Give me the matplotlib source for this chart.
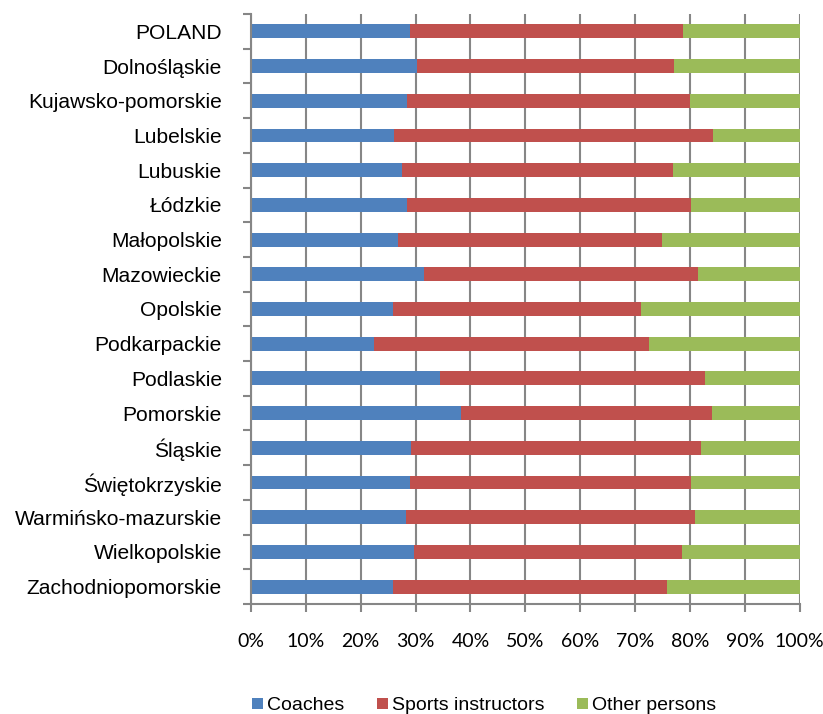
import matplotlib
matplotlib.use("Agg")
import matplotlib.pyplot as plt
import numpy as np
from matplotlib.patches import Patch

regions = ["POLAND", "Dolnośląskie", "Kujawsko-pomorskie", "Lubelskie", "Lubuskie",
           "Łódzkie", "Małopolskie", "Mazowieckie", "Opolskie", "Podkarpackie",
           "Podlaskie", "Pomorskie", "Śląskie", "Świętokrzyskie",
           "Warmińsko-mazurskie", "Wielkopolskie", "Zachodniopomorskie"]
coaches = [28.9, 30.3, 28.4, 26.1, 27.6, 28.4, 26.7, 31.6, 25.9, 22.4,
           34.5, 38.3, 29.2, 28.9, 28.3, 29.7, 25.9]
cum_instructors = [78.8, 77.1, 80.0, 84.2, 76.9, 80.2, 74.9, 81.5, 71.1, 72.6,
                   82.7, 84.0, 82.0, 80.1, 80.9, 78.6, 75.9]
instructors = [c2 - c1 for c1, c2 in zip(coaches, cum_instructors)]
others = [100 - c2 for c2 in cum_instructors]
series_names = ["Coaches", "Sports instructors", "Other persons"]
colors = ["#4F81BD", "#C0504D", "#9BBB59"]
xtick_labels = [f"{v}%" for v in range(0, 101, 10)]

fig = plt.figure(figsize=(8.23, 7.14), dpi=100)
ax = fig.add_axes([251/823, 1-604/714, (799.7-251)/823, (604-14)/714])

y = np.arange(len(regions))
h = 0.40
ax.barh(y, coaches, height=h, color=colors[0], edgecolor="none", zorder=2)
ax.barh(y, instructors, left=coaches, height=h, color=colors[1], edgecolor="none", zorder=2)
ax.barh(y, others, left=cum_instructors, height=h, color=colors[2], edgecolor="none", zorder=2)

ax.set_xlim(0, 100)
ax.set_ylim(len(regions) - 0.5, -0.5)
grid_c = "#868686"
ax.set_xticks(range(0, 101, 10))
ax.set_xticklabels(xtick_labels, family=["Lato", "DejaVu Sans"], fontsize=14)
ax.xaxis.grid(True, color=grid_c, linewidth=1.5, zorder=0)
ax.set_axisbelow(True)
ax.tick_params(axis="x", direction="out", length=6, width=1.5, color=grid_c, pad=15)

ax.set_yticks(y)
ax.set_yticklabels(regions, family=["Liberation Sans", "DejaVu Sans"], fontsize=15.1)
ax.tick_params(axis="y", which="major", length=0, pad=21)
ax.set_yticks(np.arange(-0.5, len(regions), 1.0), minor=True)
ax.tick_params(axis="y", which="minor", direction="out", length=6, width=1.5, color=grid_c)

for s in ["top", "right"]:
    ax.spines[s].set_visible(False)
for s in ["left", "bottom"]:
    ax.spines[s].set_color(grid_c)
    ax.spines[s].set_linewidth(1.5)

handles = [Patch(facecolor=c, edgecolor="none") for c in colors]
fig.legend(handles, series_names, loc="center", bbox_to_anchor=(484/823, 1-706/714),
           ncol=3, frameon=False, prop={"family": ["Liberation Sans", "DejaVu Sans"], "size": 14},
           handlelength=0.55, handleheight=0.55, handletextpad=0.2, columnspacing=1.7)

fig.savefig("out.png", dpi=100)
